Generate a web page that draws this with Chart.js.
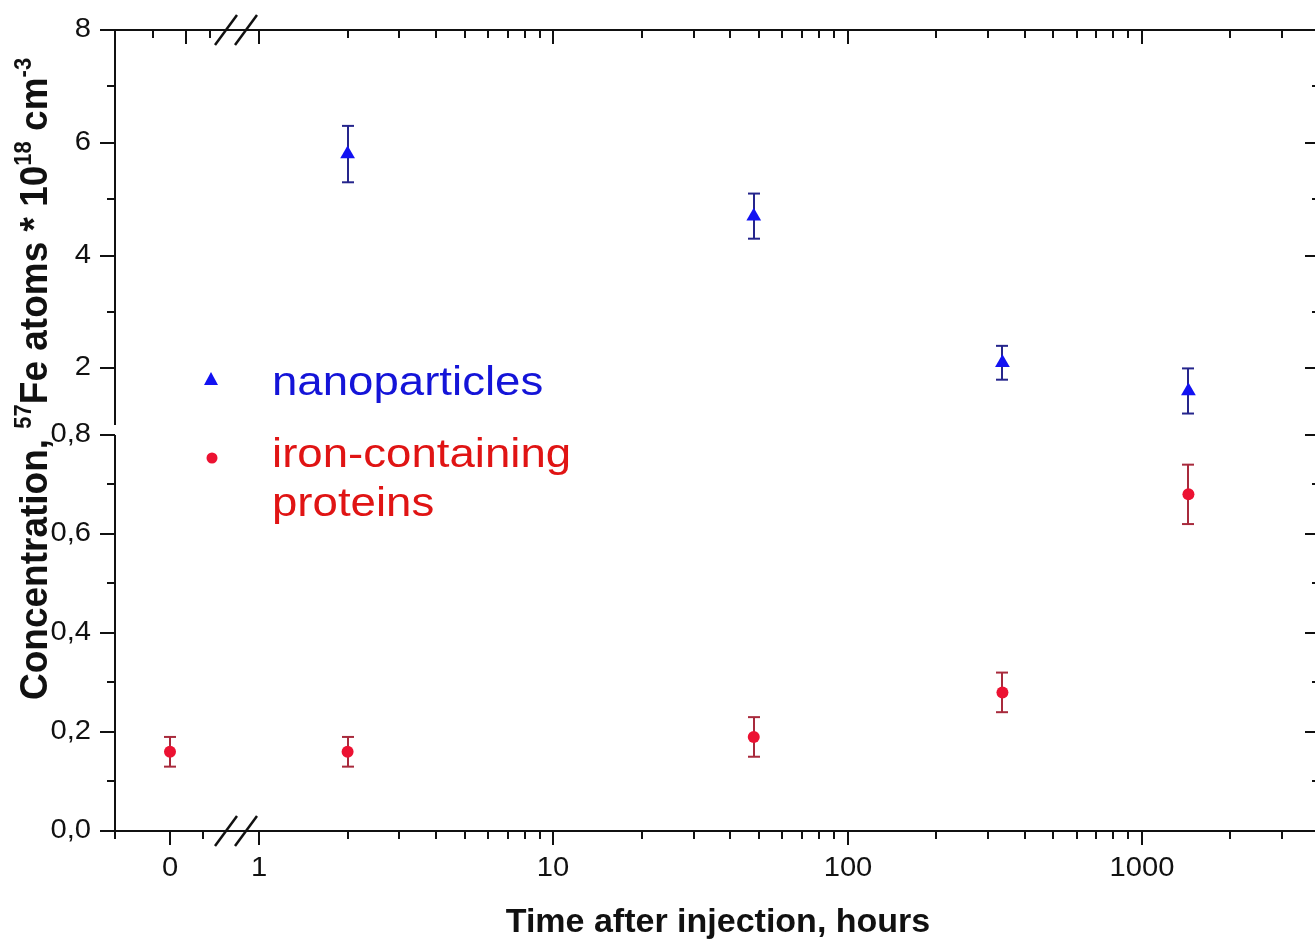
<!DOCTYPE html>
<html>
<head>
<meta charset="utf-8">
<title>57Fe concentration after injection</title>
<script src="https://cdn.jsdelivr.net/npm/chart.js@4.4.1/dist/chart.umd.min.js"></script>
<style>
  html, body { margin: 0; padding: 0; overflow: hidden; background: #fff; }
  #wrap { width: 1330px; height: 941px; }
</style>
</head>
<body>
<div id="wrap"><canvas id="chartFe" width="1330" height="941"></canvas></div>
<script>
// measurement times, hours after injection
const hours = [0, 2, 48, 336, 1440];
// 57Fe atoms * 10^18 cm^-3
const nanoparticles = [null, 5.8, 4.7, 2.1, 1.6];
const nanoErr = [null, 0.5, 0.4, 0.3, 0.4];
const proteins = [0.16, 0.16, 0.19, 0.28, 0.68];
const proteinErr = [0.03, 0.03, 0.04, 0.04, 0.06];

// tick marks of the broken axes
const xLinMajor = [0];
const xLinMinor = [0.5];
const xLinTopMajor = [0.25];
const xLinTopMinor = [-0.25, 0.6];
const xLogMajor = [1, 10, 100, 1000];
const yUpMajor = [2, 4, 6, 8];
const yUpMinor = [3, 5, 7];
const yLowMajor = [0, 0.2, 0.4, 0.6, 0.8];
const yLowMinor = [0.1, 0.3, 0.5, 0.7];

const BLUE = '#1212f2';
const BLUE_ERR = '#25258c';
const RED = '#ec1232';
const RED_ERR = '#a82a3c';
const FONT = '"Liberation Sans", Arial, sans-serif';

function pts(values, errs, keep) {
    return hours.map((h, i) => ({ x: h, y: values[i], err: errs[i] }))
        .filter((p, i) => p.y !== null && keep(hours[i]));
}

function seg(ctx, x1, y1, x2, y2) {
    ctx.beginPath();
    ctx.moveTo(x1, y1);
    ctx.lineTo(x2, y2);
    ctx.stroke();
}

function label(ctx, text, x, y, font, color, align, baseline, sx) {
    ctx.save();
    ctx.translate(x, y);
    ctx.scale(sx || 1, 1);
    ctx.font = font;
    ctx.fillStyle = color;
    ctx.textAlign = align;
    ctx.textBaseline = baseline;
    ctx.fillText(text, 0, 0);
    ctx.restore();
}

function logMinors(max) {
    const out = [];
    [1, 10, 100, 1000].forEach(d => {
        for (let k = 2; k <= 9; k++) if (d * k <= max) out.push(d * k);
    });
    return out;
}

const decor = {
    id: 'decor',
    beforeDatasetsDraw(chart) {
        const ctx = chart.ctx;
        ctx.save();
        ctx.lineWidth = 2;
        chart.data.datasets.forEach(ds => {
            const xs = chart.scales[ds.xAxisID], ys = chart.scales[ds.yAxisID];
            ctx.strokeStyle = ds.errorColor;
            ds.data.forEach(p => {
                const x = Math.round(xs.getPixelForValue(p.x));
                const top = ys.getPixelForValue(p.y + p.err);
                const bot = ys.getPixelForValue(p.y - p.err);
                seg(ctx, x, top, x, bot);
                seg(ctx, x - 6, top, x + 6, top);
                seg(ctx, x - 6, bot, x + 6, bot);
            });
        });
        ctx.restore();
    },
    afterDraw(chart) {
        const ctx = chart.ctx;
        const { xLin, xLog, yUp, yLow } = chart.scales;
        const L = xLin.left, R = xLog.right, T = yUp.top, B = yLow.bottom;
        const px = (s, v) => Math.round(s.getPixelForValue(v));
        ctx.save();
        ctx.strokeStyle = '#111';
        ctx.lineWidth = 2;

        // frame with the gap in the vertical axes
        seg(ctx, L - 1, T, R + 1, T);
        seg(ctx, L - 1, B, R + 1, B);
        [L, R].forEach(x => {
            seg(ctx, x, T, x, px(yUp, 1));
            seg(ctx, x, px(yLow, 0.8), x, B);
        });

        // x ticks: bottom outward, top inward
        const logMinor = logMinors(xLog.max);
        xLinMajor.forEach(v => seg(ctx, px(xLin, v), B, px(xLin, v), B + 14));
        xLinMinor.concat([xLin.min]).forEach(v => seg(ctx, px(xLin, v), B, px(xLin, v), B + 8));
        xLinTopMajor.forEach(v => seg(ctx, px(xLin, v), T, px(xLin, v), T + 14));
        xLinTopMinor.forEach(v => seg(ctx, px(xLin, v), T, px(xLin, v), T + 8));
        xLogMajor.forEach(v => {
            seg(ctx, px(xLog, v), B, px(xLog, v), B + 14);
            seg(ctx, px(xLog, v), T, px(xLog, v), T + 14);
        });
        logMinor.forEach(v => {
            seg(ctx, px(xLog, v), B, px(xLog, v), B + 8);
            seg(ctx, px(xLog, v), T, px(xLog, v), T + 8);
        });

        // y ticks: left outward, right inward
        [[yUp, yUpMajor, yUpMinor], [yLow, yLowMajor, yLowMinor]].forEach(([s, maj, min]) => {
            maj.forEach(v => {
                seg(ctx, L - 15, px(s, v), L, px(s, v));
                seg(ctx, R - 14, px(s, v), R, px(s, v));
            });
            min.forEach(v => {
                seg(ctx, L - 8, px(s, v), L, px(s, v));
                seg(ctx, R - 7, px(s, v), R, px(s, v));
            });
        });

        // break marks on the time axis
        const brk = xLin.right;
        ctx.lineWidth = 2.5;
        [B, T].forEach(y => {
            [-10, 10].forEach(dx => seg(ctx, brk + dx - 11, y + 15, brk + dx + 11, y - 15));
        });
        ctx.restore();

        // tick labels
        const tickFont = '27px ' + FONT;
        yUpMajor.forEach(v => label(ctx, String(v), 91, px(yUp, v), tickFont, '#111', 'right', 'middle', 1.08));
        yLowMajor.forEach(v => label(ctx, v.toFixed(1).replace('.', ','), 91, px(yLow, v), tickFont, '#111', 'right', 'middle', 1.08));
        xLinMajor.forEach(v => label(ctx, String(v), px(xLin, v), 869, tickFont, '#111', 'center', 'middle', 1.08));
        xLogMajor.forEach(v => label(ctx, String(v), px(xLog, v), 869, tickFont, '#111', 'center', 'middle', 1.08));

        // axis titles
        label(ctx, 'Time after injection, hours', 718, 932, 'bold 34px ' + FONT, '#111', 'center', 'alphabetic');
        const parts = [['Concentration, ', 0], ['57', 1], ['Fe atoms * 10', 0], ['18', 1], [' cm', 0], ['-3', 1]];
        ctx.save();
        ctx.translate(47, 700);
        ctx.scale(1.05, 1);
        ctx.rotate(-Math.PI / 2);
        ctx.fillStyle = '#111';
        ctx.textAlign = 'left';
        ctx.textBaseline = 'alphabetic';
        let pos = 0;
        parts.forEach(([t, sup]) => {
            ctx.font = sup ? 'bold 22px ' + FONT : 'bold 37px ' + FONT;
            ctx.fillText(t, pos, sup ? -15 : 0);
            pos += ctx.measureText(t).width;
        });
        ctx.restore();

        // legend
        ctx.save();
        ctx.fillStyle = BLUE;
        ctx.beginPath();
        ctx.moveTo(211, 372);
        ctx.lineTo(218, 385);
        ctx.lineTo(204, 385);
        ctx.closePath();
        ctx.fill();
        ctx.fillStyle = RED;
        ctx.beginPath();
        ctx.arc(212, 458, 5.5, 0, Math.PI * 2);
        ctx.fill();
        ctx.restore();
        const legFont = '40px ' + FONT;
        label(ctx, 'nanoparticles', 272, 395, legFont, '#1414d8', 'left', 'alphabetic', 1.14);
        label(ctx, 'iron-containing', 272, 467, legFont, '#e01414', 'left', 'alphabetic', 1.14);
        label(ctx, 'proteins', 272, 516, legFont, '#e01414', 'left', 'alphabetic', 1.14);
    }
};

new Chart(document.getElementById('chartFe'), {
    type: 'scatter',
    data: {
        datasets: [
            {
                label: 'nanoparticles',
                data: pts(nanoparticles, nanoErr, h => h > 0),
                xAxisID: 'xLog', yAxisID: 'yUp',
                pointStyle: 'triangle', pointRadius: 8.5,
                backgroundColor: BLUE, borderWidth: 0,
                errorColor: BLUE_ERR
            },
            {
                label: 'iron-containing proteins',
                data: pts(proteins, proteinErr, h => h > 0),
                xAxisID: 'xLog', yAxisID: 'yLow',
                pointStyle: 'circle', pointRadius: 6,
                backgroundColor: RED, borderWidth: 0,
                errorColor: RED_ERR
            },
            {
                label: 'iron-containing proteins, t = 0',
                data: pts(proteins, proteinErr, h => h === 0),
                xAxisID: 'xLin', yAxisID: 'yLow',
                pointStyle: 'circle', pointRadius: 6,
                backgroundColor: RED, borderWidth: 0,
                errorColor: RED_ERR
            }
        ]
    },
    options: {
        responsive: false,
        animation: false,
        events: [],
        layout: { padding: { left: 115, top: 30, right: 11, bottom: 110 }, autoPadding: false },
        plugins: { legend: { display: false }, tooltip: { enabled: false } },
        scales: {
            // 0 h on its own short linear piece, the rest on a log piece
            xLin: { type: 'linear', position: 'bottom', stack: 'time', stackWeight: 121, min: -0.8333, max: 1, display: false },
            xLog: { type: 'logarithmic', position: 'bottom', stack: 'time', stackWeight: 1083, min: 0.8353, max: 4000, display: false },
            // concentration split into 0..0.8 and 1..8
            yLow: { type: 'linear', position: 'left', stack: 'conc', stackWeight: 401, min: 0, max: 0.81, display: false },
            yUp: { type: 'linear', position: 'left', stack: 'conc', stackWeight: 400, min: 0.908, max: 8, display: false }
        }
    },
    plugins: [decor]
});
</script>
</body>
</html>
